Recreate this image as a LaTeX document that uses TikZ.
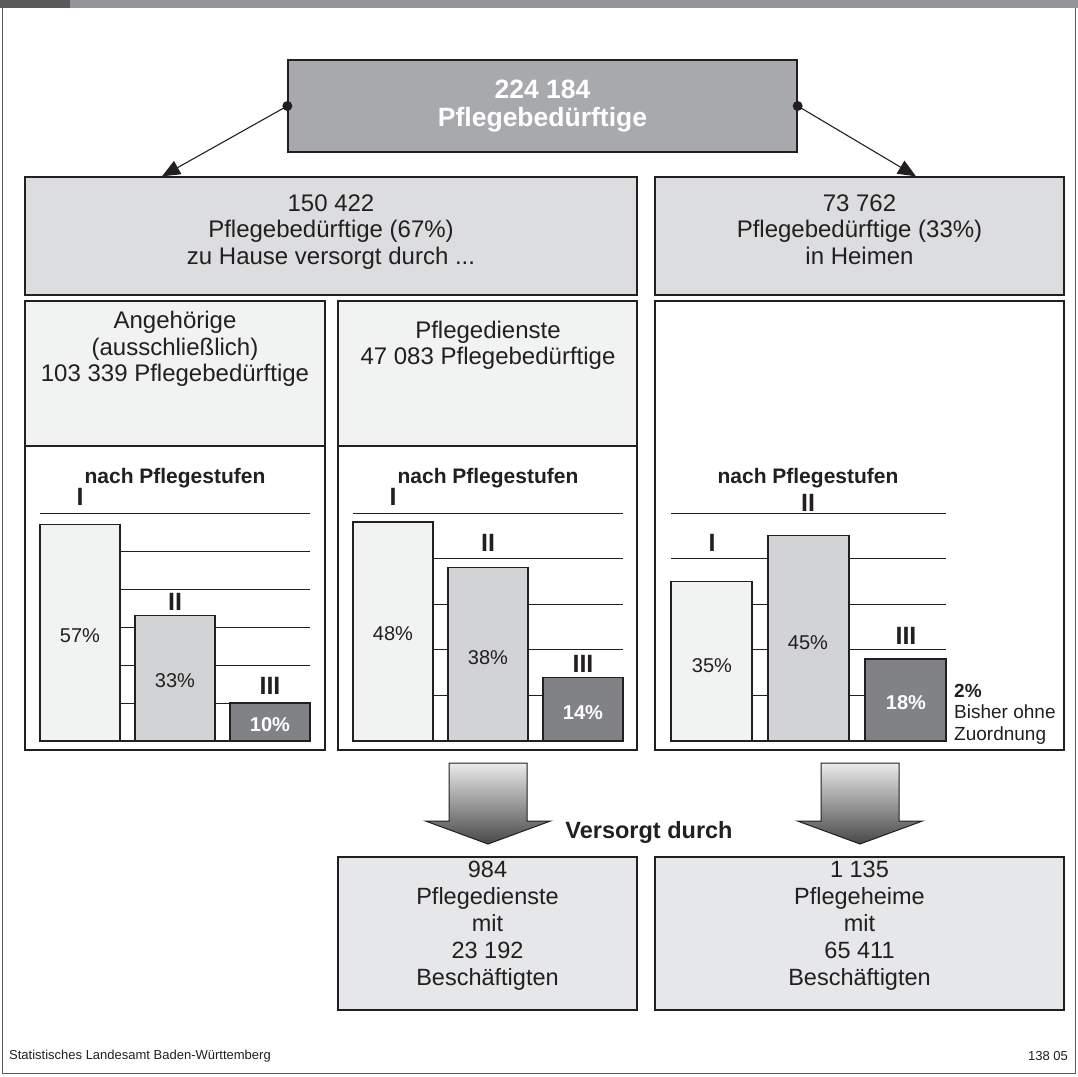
\documentclass[tikz,border=0pt]{standalone}
\usepackage{fontspec}
\setmainfont{Liberation Sans}
\usetikzlibrary{arrows.meta}

\definecolor{bargray}{HTML}{939598}
\definecolor{bardark}{HTML}{58595B}
\definecolor{topfill}{HTML}{A7A9AC}
\definecolor{rowfill}{HTML}{DCDDDE}
\definecolor{panelfill}{HTML}{F1F2F2}
\definecolor{stufeI}{HTML}{F1F2F2}
\definecolor{stufeII}{HTML}{D1D3D4}
\definecolor{stufeIII}{HTML}{808285}
\definecolor{endfill}{HTML}{E6E7E8}
\definecolor{linecol}{HTML}{231F20}

\begin{document}
\begin{tikzpicture}[x=1pt,y=-1pt,
  box/.style={draw=linecol,line width=1.3pt,inner sep=0pt},
  body/.style={font=\fontsize{24}{26.5}\selectfont,align=center,text=linecol},
  head/.style={font=\bfseries\fontsize{21}{24}\selectfont,text=linecol},
  stufe/.style={font=\bfseries\fontsize{25}{26}\selectfont,text=linecol},
  pct/.style={font=\fontsize{20}{22}\selectfont,text=linecol},
  pctw/.style={font=\bfseries\fontsize{20}{22}\selectfont,text=white},
  gridline/.style={line width=0.8pt,draw=linecol},
  bar/.style={draw=linecol,line width=1.3pt},
  conn/.style={-{Triangle[length=18pt,width=15pt]},line width=1.1pt,draw=linecol},
  bigarrow/.style={top color=black!8,bottom color=black!72,draw=linecol,line width=1pt}]
\useasboundingbox (0,0) rectangle (1078,1076);

% frame and top bar
\fill[bargray] (0,0) rectangle (1078,8);
\fill[bardark] (0,0) rectangle (70,8);
\draw[bardark,line width=1pt] (2.5,8) -- (2.5,1073) -- (1075.5,1073) -- (1075.5,8);

% top box
\node[box,fill=topfill,minimum width=509,minimum height=92,
  font=\bfseries\fontsize{26.5}{28}\selectfont,text=white,align=center]
  (total) at (542.5,106) {224 184\\Pflegebedürftige};

% second row
\node[box,fill=rowfill,minimum width=612,minimum height=118] (home) at (331,236) {};
\node[box,fill=rowfill,minimum width=409,minimum height=118] (heim) at (859.5,236) {};
\node[body] (hometxt) at (331,232) {150 422\\Pflegebedürftige (67\%)\\zu Hause versorgt durch ...};
\node[body] (heimtxt) at (859.5,229.5) {73 762\\Pflegebedürftige (33\%)\\in Heimen};

\fill[linecol] (total.west) circle (5);
\fill[linecol] (total.east) circle (5);
\draw[conn] (total.west) -- (home.north -| 162,0);
\draw[conn] (total.east) -- (heim.north -| 916,0);

% panels
\node[box,fill=white,minimum width=300,minimum height=449] (pan1) at (175,525.5) {};
\node[box,fill=white,minimum width=299,minimum height=449] (pan2) at (487.5,525.5) {};
\node[box,fill=white,minimum width=409,minimum height=449] (pan3) at (859.5,525.5) {};
\node[box,fill=panelfill,minimum width=300,minimum height=145] (angbox) at (175,373.5) {};
\node[box,fill=panelfill,minimum width=299,minimum height=145] (diebox) at (487.5,373.5) {};
\node[body] (ang) at (175,349) {Angehörige\\(ausschließlich)\\103 339 Pflegebedürftige};
\node[body] (dienst) at (488,345.5) {Pflegedienste\\47 083 Pflegebedürftige};

\node[head] (nach1) at (175,478) {nach Pflegestufen};
\node[head] (nach2) at (488,478) {nach Pflegestufen};
\node[head] (nach3) at (808,478) {nach Pflegestufen};

% chart 1: Angehoerige
\foreach \k in {1,...,6}
  \draw[gridline] (40,{741-38*\k}) -- (310,{741-38*\k});
\draw[bar,fill=stufeI] (40,741) rectangle (120,524.4);
\draw[bar,fill=stufeII] (135,741) rectangle (215,615.6);
\draw[bar,fill=stufeIII] (230,741) rectangle (310,703);
\draw[bar] (40,741) -- (310,741);
\node[stufe] (a1) at (80,497) {I};
\node[stufe] (a2) at (175,602) {II};
\node[stufe] (a3) at (270,686) {III};
\node[pct] (ap1) at (80,636) {57\%};
\node[pct] (ap2) at (175,681) {33\%};
\node[pctw] (ap3) at (270,725) {10\%};

% chart 2: Pflegedienste
\foreach \k in {1,...,5}
  \draw[gridline] (353,{741-45.6*\k}) -- (623,{741-45.6*\k});
\draw[bar,fill=stufeI] (353,741) rectangle (433,522.1);
\draw[bar,fill=stufeII] (448,741) rectangle (528,567.7);
\draw[bar,fill=stufeIII] (543,741) rectangle (623,677.2);
\draw[bar] (353,741) -- (623,741);
\node[stufe] (d1) at (393,497) {I};
\node[stufe] (d2) at (488,543) {II};
\node[stufe] (d3) at (583,664) {III};
\node[pct] (dp1) at (393,634) {48\%};
\node[pct] (dp2) at (488,658) {38\%};
\node[pctw] (dp3) at (583,713) {14\%};

% chart 3: Heime
\foreach \k in {1,...,5}
  \draw[gridline] (671,{741-45.6*\k}) -- (946,{741-45.6*\k});
\draw[bar,fill=stufeI] (671,741) rectangle (752,581.4);
\draw[bar,fill=stufeII] (768,741) rectangle (849,535.8);
\draw[bar,fill=stufeIII] (865,741) rectangle (946,658.9);
\draw[bar] (671,741) -- (946,741);
\node[stufe] (h1) at (712,543) {I};
\node[stufe] (h2) at (808,503) {II};
\node[stufe] (h3) at (906,636) {III};
\node[pct] (hp1) at (712,666) {35\%};
\node[pct] (hp2) at (808,643) {45\%};
\node[pctw] (hp3) at (906,703) {18\%};
\node[anchor=west,align=left,font=\fontsize{19}{21.5}\selectfont,text=linecol,inner sep=0pt]
  (ohne) at (954,714) {\textbf{2\%}\\Bisher ohne\\Zuordnung};

% big arrows
\shade[bigarrow] (449,763) -- (527,763) -- (527,821) -- (550.5,821) -- (488,844)
  -- (425.5,821) -- (449,821) -- cycle;
\shade[bigarrow] (821,763) -- (899,763) -- (899,821) -- (922.5,821) -- (860,844)
  -- (797.5,821) -- (821,821) -- cycle;
\node[font=\bfseries\fontsize{23.5}{26}\selectfont,text=linecol] (versorgt) at (649,832) {Versorgt durch};

% bottom boxes
\node[box,fill=endfill,minimum width=299,minimum height=153] (pdbox) at (487.5,933.5) {};
\node[box,fill=endfill,minimum width=409,minimum height=153] (phbox) at (859.5,933.5) {};
\node[body,font=\fontsize{23.5}{27}\selectfont] (pd) at (487.5,926) {984\\Pflegedienste\\mit\\23 192\\Beschäftigten};
\node[body,font=\fontsize{23.5}{27}\selectfont] (ph) at (859.5,926) {1 135\\Pflegeheime\\mit\\65 411\\Beschäftigten};

% footer
\node[anchor=west,font=\fontsize{13}{15}\selectfont,text=linecol,inner sep=0pt]
  (quelle) at (9,1056) {Statistisches Landesamt Baden-Württemberg};
\node[anchor=east,font=\fontsize{13}{15}\selectfont,text=linecol,inner sep=0pt]
  (nummer) at (1068,1056) {138 05};
\end{tikzpicture}
\end{document}
